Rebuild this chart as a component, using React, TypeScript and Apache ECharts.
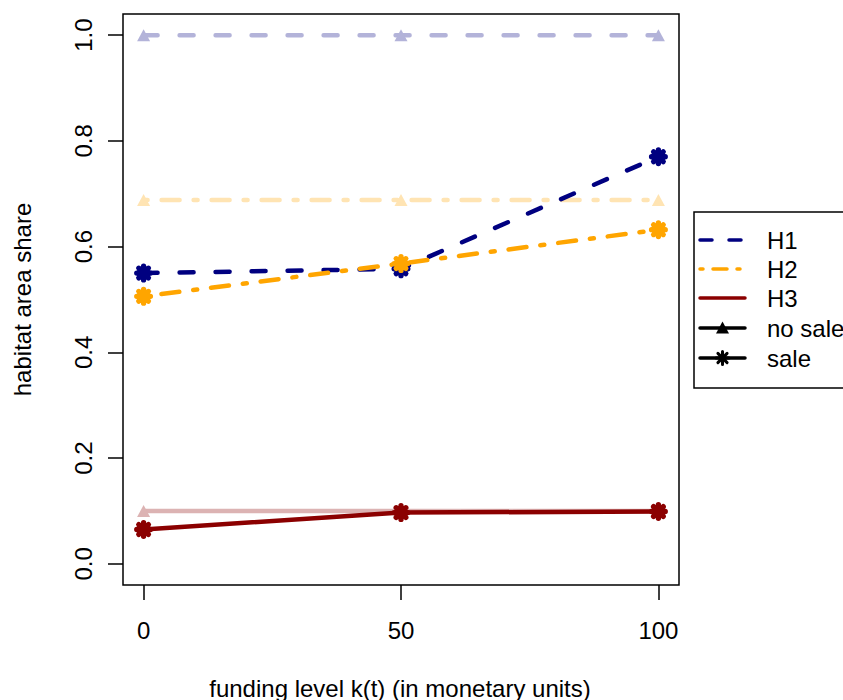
import React, { useEffect, useRef } from 'react';
import * as echarts from 'echarts';

// ---- data ----
const fundingLevels = [0, 50, 100];
const h1NoSale = [1.0, 1.0, 1.0];
const h2NoSale = [0.688, 0.688, 0.688];
const h3NoSale = [0.1, 0.1, 0.1];
const h1Sale = [0.55, 0.558, 0.77];
const h2Sale = [0.506, 0.568, 0.632];
const h3Sale = [0.065, 0.097, 0.099];
const xTicks = [0, 50, 100];
const yTicks = [0, 0.2, 0.4, 0.6, 0.8, 1.0];
const legendLabels = ['H1', 'H2', 'H3', 'no sale', 'sale'];
const xTitle = 'funding level k(t) (in monetary units)';
const yTitle = 'habitat area share';

// ---- styles ----
const FONT = 'Liberation Sans, Arial, Helvetica, sans-serif';
const NAVY = '#000080';
const ORANGE = '#FFA500';
const DARKRED = '#8B0000';
const NAVY_L = '#b3b3d9';
const ORANGE_L = '#ffe4b3';
const DARKRED_L = '#dcb3b3';
const DASH: number[] = [14, 22];
const DOTDASH: number[] = [4, 14, 18, 14];

function asteriskPath(h: number, r: number): string {
  let d = '';
  const f = (v: number) => v.toFixed(3);
  for (const deg of [0, 45, 90, 135]) {
    const a = (deg * Math.PI) / 180;
    const c = Math.cos(a);
    const s = Math.sin(a);
    const nx = -s;
    const ny = c;
    const p1 = [-h * c + r * nx, -h * s + r * ny];
    const p2 = [h * c + r * nx, h * s + r * ny];
    const p3 = [h * c - r * nx, h * s - r * ny];
    const p4 = [-h * c - r * nx, -h * s - r * ny];
    d += `M ${f(p1[0])} ${f(p1[1])} L ${f(p2[0])} ${f(p2[1])} A ${f(r)} ${f(r)} 0 0 0 ${f(p3[0])} ${f(p3[1])} L ${f(p4[0])} ${f(p4[1])} A ${f(r)} ${f(r)} 0 0 0 ${f(p1[0])} ${f(p1[1])} Z `;
  }
  return d.trim();
}

const STAR_D = asteriskPath(6.5, 2.5);
const STAR_LEGEND_D = asteriskPath(6.5, 1.5);
let registered = false;
function ensureShapes() {
  if (registered) return;
  echarts.graphic.registerShape('asteriskLegend', echarts.graphic.extendPath(STAR_LEGEND_D, {}) as any);
  registered = true;
}

function pairs(vals: number[]) {
  return fundingLevels.map((x, i) => [x, vals[i]]);
}

function noSaleSeries(name: string, vals: number[], color: string, type: any) {
  return {
    name,
    type: 'line',
    data: pairs(vals),
    symbol: 'triangle',
    symbolSize: [13, 12],
    showSymbol: true,
    silent: true,
    lineStyle: { color, width: 4.5, type, cap: 'round' },
    itemStyle: { color },
    emphasis: { disabled: true },
  };
}

function saleSeries(name: string, vals: number[], color: string, type: any) {
  return {
    name,
    type: 'line',
    data: pairs(vals),
    symbol: 'path://' + STAR_D,
    symbolSize: 19,
    symbolKeepAspect: true,
    showSymbol: true,
    silent: true,
    lineStyle: { color, width: 4.5, type, cap: 'round' },
    itemStyle: { color },
    emphasis: { disabled: true },
  };
}

export default function App() {
  const ref = useRef<HTMLDivElement>(null);

  useEffect(() => {
    if (!ref.current) return;
    ensureShapes();
    const chart = echarts.init(ref.current, undefined, { renderer: 'svg' });

    const legendRowsY = [240, 269, 298, 328, 358];
    const lx0 = 700;
    const lx1 = 745;
    const lmid = (lx0 + lx1) / 2;
    const legendLineStyles: any[] = [
      { stroke: NAVY, lineWidth: 3.5, lineDash: [12, 17], lineCap: 'round' },
      { stroke: ORANGE, lineWidth: 3.5, lineDash: [3, 10, 14, 10], lineCap: 'round' },
      { stroke: DARKRED, lineWidth: 3.5, lineCap: 'round' },
      { stroke: '#000', lineWidth: 3.5, lineCap: 'round' },
      { stroke: '#000', lineWidth: 3.5, lineCap: 'round' },
    ];

    const legendElems: any[] = [
      {
        type: 'rect',
        shape: { x: 694, y: 212, width: 220, height: 176 },
        style: { fill: '#fff', stroke: '#000', lineWidth: 1.5 },
      },
    ];
    legendLabels.forEach((lab, i) => {
      const y = legendRowsY[i];
      legendElems.push({
        type: 'line',
        shape: { x1: lx0, y1: y, x2: lx1, y2: y },
        style: legendLineStyles[i],
      });
      legendElems.push({
        type: 'text',
        x: 767,
        y,
        style: {
          text: lab,
          font: `24px ${FONT}`,
          fill: '#000',
          textAlign: 'left',
          textVerticalAlign: 'middle',
        },
      });
    });
    legendElems.push({
      type: 'polygon',
      shape: {
        points: [
          [lmid - 6.5, legendRowsY[3] + 5.5],
          [lmid + 6.5, legendRowsY[3] + 5.5],
          [lmid, legendRowsY[3] - 6.5],
        ],
      },
      style: { fill: '#000' },
    });
    legendElems.push({
      type: 'asteriskLegend',
      x: lmid,
      y: legendRowsY[4],
      style: { fill: '#000' },
    });

    chart.setOption({
      animation: false,
      backgroundColor: '#fff',
      grid: {
        left: 123,
        top: 14,
        width: 556,
        height: 571,
        show: true,
        borderColor: '#000',
        borderWidth: 1.5,
        backgroundColor: 'transparent',
        containLabel: false,
      },
      xAxis: {
        type: 'value',
        min: -4,
        max: 104,
        axisLine: { show: false, onZero: false },
        splitLine: { show: false },
        axisTick: {
          show: true,
          inside: false,
          length: 15,
          customValues: xTicks,
          lineStyle: { color: '#000', width: 1.5 },
        },
        axisLabel: {
          customValues: xTicks,
          fontSize: 24,
          fontFamily: FONT,
          color: '#000',
          margin: 33,
          formatter: (v: number) => String(v),
        },
      },
      yAxis: {
        type: 'value',
        min: -0.04,
        max: 1.04,
        axisLine: { show: false, onZero: false },
        splitLine: { show: false },
        axisTick: {
          show: true,
          inside: false,
          length: 15,
          customValues: yTicks,
          lineStyle: { color: '#000', width: 1.5 },
        },
        axisLabel: {
          customValues: yTicks,
          fontSize: 24,
          fontFamily: FONT,
          color: '#000',
          rotate: 90,
          margin: 28,
          formatter: (v: number) => v.toFixed(1),
        },
      },
      graphic: [
        {
          type: 'text',
          x: 400,
          y: 688,
          style: {
            text: xTitle,
            font: `24px ${FONT}`,
            fill: '#000',
            textAlign: 'center',
            textVerticalAlign: 'middle',
          },
        },
        {
          type: 'text',
          x: 22,
          y: 299.5,
          rotation: Math.PI / 2,
          style: {
            text: yTitle,
            font: `24px ${FONT}`,
            fill: '#000',
            textAlign: 'center',
            textVerticalAlign: 'middle',
          },
        },
        ...legendElems,
      ],
      series: [
        noSaleSeries('H1 no sale', h1NoSale, NAVY_L, DASH),
        noSaleSeries('H2 no sale', h2NoSale, ORANGE_L, DOTDASH),
        noSaleSeries('H3 no sale', h3NoSale, DARKRED_L, 'solid'),
        saleSeries('H1 sale', h1Sale, NAVY, DASH),
        saleSeries('H2 sale', h2Sale, ORANGE, DOTDASH),
        saleSeries('H3 sale', h3Sale, DARKRED, 'solid'),
      ],
    });

    return () => {
      chart.dispose();
    };
  }, []);

  return (
    <div
      ref={ref}
      style={{ position: 'absolute', left: 0, top: 0, width: 843, height: 700 }}
    />
  );
}
